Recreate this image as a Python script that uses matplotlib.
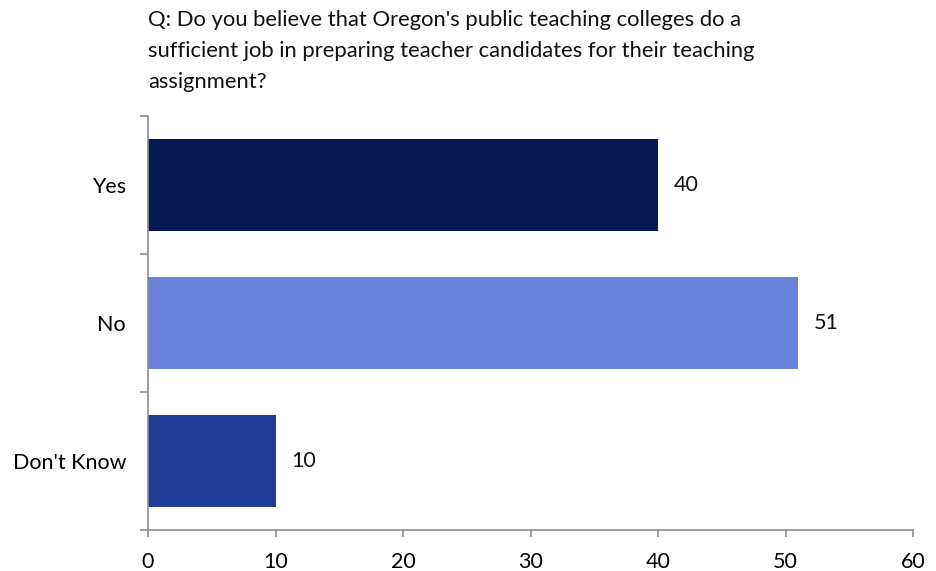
import matplotlib
matplotlib.use("Agg")
import matplotlib.pyplot as plt

plt.rcParams["font.family"] = ["Lato", "DejaVu Sans"]

# Survey responses (percent)
categories = ["Yes", "No", "Don't Know"]
values = [40, 51, 10]
bar_colors = ["#071951", "#6A84DE", "#1F3C96"]
x_ticks = [0, 10, 20, 30, 40, 50, 60]
question = ("Q: Do you believe that Oregon's public teaching colleges do a\n"
            "sufficient job in preparing teacher candidates for their teaching\n"
            "assignment?")

spine_color = "#8C8C8C"


def main():
    fig = plt.figure(figsize=(9.36, 5.71), dpi=100)
    ax = fig.add_axes([148 / 936, 41 / 571, 765 / 936, 414 / 571])

    pos = list(range(len(categories)))
    ax.barh(pos, values, height=0.67, color=bar_colors)
    ax.set_ylim(len(categories) - 0.5, -0.5)
    ax.set_xlim(0, 60)

    for p, v in zip(pos, values):
        ax.text(v + 1.25, p, str(v), va="center", ha="left", fontsize=15.5, color="#111111")

    ax.set_yticks(pos)
    ax.set_yticklabels(categories)
    ax.set_yticks([-0.5, 0.5, 1.5, 2.5], minor=True)
    ax.tick_params(axis="y", which="major", length=0, pad=15.8, labelsize=15.5)
    ax.tick_params(axis="y", which="minor", length=6, width=1.2, color=spine_color)
    ax.set_xticks(x_ticks)
    ax.tick_params(axis="x", length=5, width=1.2, color=spine_color, pad=10.5, labelsize=15.5)

    for side in ("top", "right"):
        ax.spines[side].set_visible(False)
    for side in ("left", "bottom"):
        ax.spines[side].set_color(spine_color)
        ax.spines[side].set_linewidth(1.2)

    fig.text(148 / 936, 1 - 10 / 571, question, ha="left", va="top",
             fontsize=15.8, linespacing=1.7, color="#111111")

    fig.savefig("out.png", dpi=100)


if __name__ == "__main__":
    main()
